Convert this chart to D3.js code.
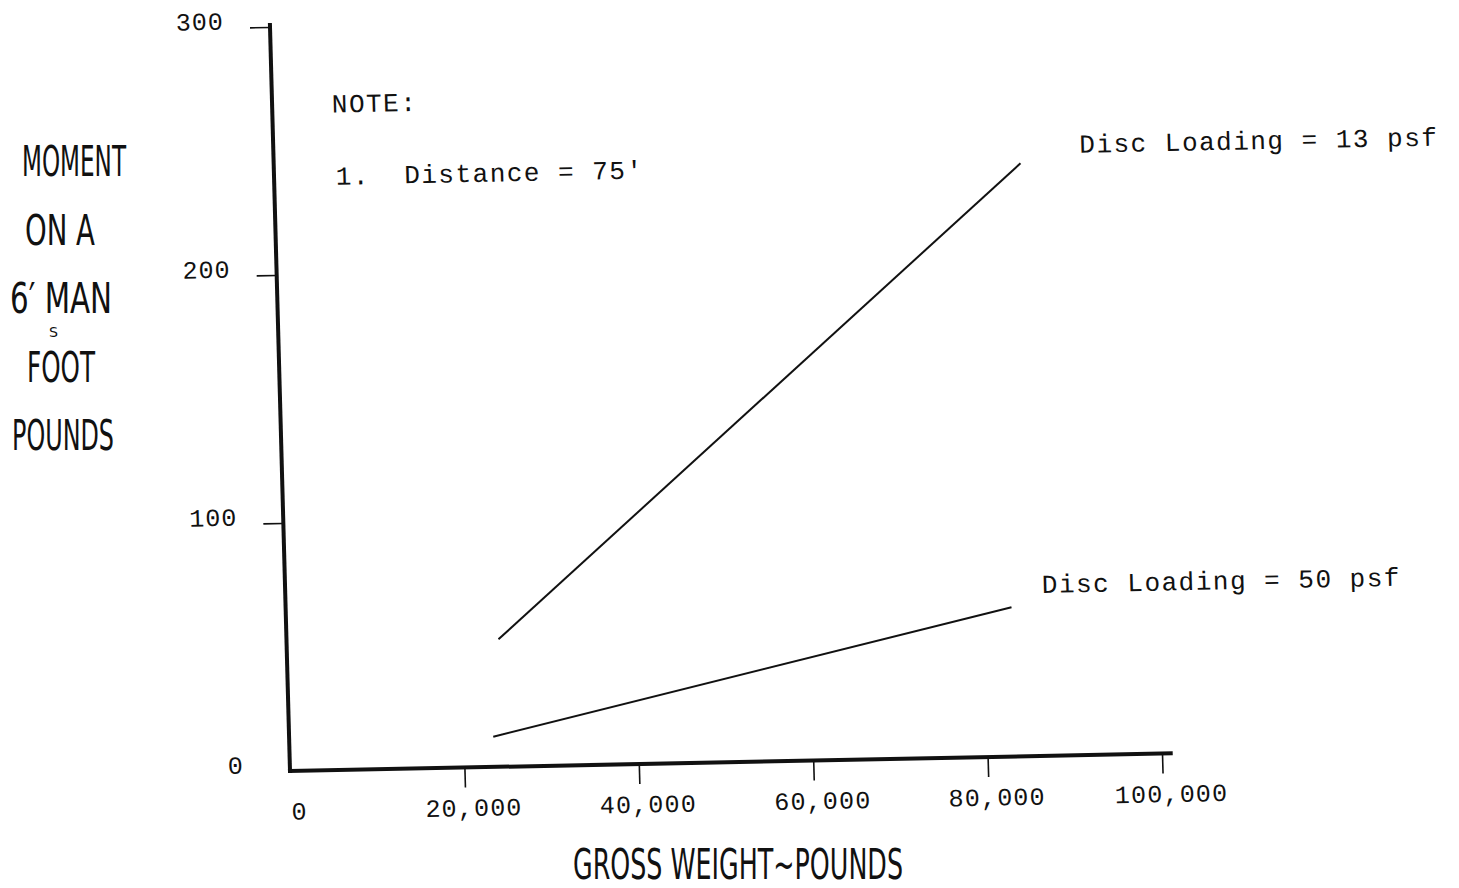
<!DOCTYPE html>
<html>
<head>
<meta charset="utf-8">
<script src="https://cdn.jsdelivr.net/npm/d3@7"></script>
<style>
  html, body { margin: 0; padding: 0; background: #fff; }
  svg { display: block; }
  text { white-space: pre; }
</style>
</head>
<body>
<script>
// ---------------- data ----------------
const xTickValues = [0, 20000, 40000, 60000, 80000, 100000];
const yTickValues = [0, 100, 200, 300];

const seriesNames = ["Disc Loading = 13 psf", "Disc Loading = 50 psf"];
const weight13 = [24300, 85600];
const moment13 = [51.4, 239.0];
const weight50 = [23400, 83200];
const moment50 = [12.2, 60.2];

// label anchors (data units)
const labelWeight = [92400, 86750];
const labelMoment = [242.8, 65.7];

const noteLines = ["NOTE:", "1.  Distance = 75'"];
const noteWeight = [6850, 7080];
const noteMoment = [265.0, 235.9];

const yTitleLines = ["MOMENT", "ON A", "6\u2032 MAN", "S", "FOOT", "POUNDS"];
const xTitle = "GROSS WEIGHT~POUNDS";

// ---------------- layout ----------------
const W = 1459, H = 888;
const mono = "'Liberation Mono', 'DejaVu Sans Mono', monospace";
const narrow = "'Liberation Sans Narrow', 'DejaVu Sans Condensed', 'Liberation Sans', sans-serif";
const ink = "#111";

const svg = d3.select("body").append("svg")
  .attr("width", W).attr("height", H)
  .style("background", "#fff");

const x = d3.scaleLinear().domain([0, 100000]).range([0, 872]);
const y = d3.scaleLinear().domain([0, 300]).range([0, -744]);

// the scanned page is slightly skewed; reproduce with an affine transform
const plot = svg.append("g")
  .attr("transform", "matrix(1,-0.02,0.02688,1,290,771)");

// axis lines
plot.append("line")
  .attr("x1", x(0)).attr("y1", y(0))
  .attr("x2", x(101000)).attr("y2", y(0))
  .attr("stroke", ink).attr("stroke-width", 4).attr("stroke-linecap", "square");
plot.append("line")
  .attr("x1", x(0)).attr("y1", y(0))
  .attr("x2", x(0)).attr("y2", y(300.8))
  .attr("stroke", ink).attr("stroke-width", 4).attr("stroke-linecap", "square");

// x axis
const gx = plot.append("g")
  .call(d3.axisBottom(x).tickValues(xTickValues).tickSize(20).tickPadding(11)
    .tickFormat(d3.format(",")));
gx.select(".domain").remove();
gx.attr("font-family", mono).attr("font-size", 25);
gx.selectAll(".tick line").attr("stroke", ink).attr("stroke-width", 1.6)
  .filter(d => d === 0).remove();
gx.selectAll(".tick text").attr("fill", ink).attr("dx", 8)
  .style("letter-spacing", "1.2px");

// y axis
const gy = plot.append("g")
  .call(d3.axisLeft(y).tickValues(yTickValues).tickSize(20).tickPadding(26)
    .tickFormat(d3.format("d")));
gy.select(".domain").remove();
gy.attr("font-family", mono).attr("font-size", 25);
gy.selectAll(".tick line").attr("stroke", ink).attr("stroke-width", 1.6)
  .filter(d => d === 0).remove();
gy.selectAll(".tick text").attr("fill", ink).attr("dy", "0.05em")
  .style("letter-spacing", "1px");

// data lines
const line = d3.line().x(d => x(d[0])).y(d => y(d[1]));
const series = [d3.zip(weight13, moment13), d3.zip(weight50, moment50)];
plot.selectAll("path.series").data(series).join("path")
  .attr("class", "series")
  .attr("d", line)
  .attr("fill", "none").attr("stroke", ink).attr("stroke-width", 2);

// series labels
plot.selectAll("text.slabel").data(seriesNames).join("text")
  .attr("class", "slabel")
  .attr("x", (d, i) => x(labelWeight[i]))
  .attr("y", (d, i) => y(labelMoment[i]))
  .attr("font-family", mono).attr("font-size", 26)
  .style("letter-spacing", "1.5px")
  .attr("fill", ink)
  .text(d => d);

// note
plot.selectAll("text.note").data(noteLines).join("text")
  .attr("class", "note")
  .attr("x", (d, i) => x(noteWeight[i]))
  .attr("y", (d, i) => y(noteMoment[i]))
  .attr("font-family", mono).attr("font-size", 26)
  .style("letter-spacing", "1.5px")
  .attr("fill", ink)
  .text(d => d);

// y title (lettered block on the left)
const yTitleLayout = [
  { x: 22, y: 176, w: 104, fs: 43 },
  { x: 25, y: 245, w: 70,  fs: 43 },
  { x: 10, y: 313, w: 102, fs: 43 },
  { x: 49, y: 337, w: 9,   fs: 14 },
  { x: 27, y: 382, w: 68,  fs: 43 },
  { x: 12, y: 450, w: 102, fs: 43 }
];
svg.selectAll("text.ytitle").data(yTitleLines).join("text")
  .attr("class", "ytitle")
  .attr("x", (d, i) => yTitleLayout[i].x)
  .attr("y", (d, i) => yTitleLayout[i].y)
  .attr("textLength", (d, i) => yTitleLayout[i].w)
  .attr("lengthAdjust", "spacingAndGlyphs")
  .attr("font-family", narrow)
  .attr("font-size", (d, i) => yTitleLayout[i].fs)
  .attr("fill", ink)
  .text(d => d);

// x title
svg.append("text")
  .attr("x", 573).attr("y", 879)
  .attr("textLength", 330).attr("lengthAdjust", "spacingAndGlyphs")
  .attr("font-family", narrow).attr("font-size", 42)
  .attr("fill", ink)
  .text(xTitle);
</script>
</body>
</html>
